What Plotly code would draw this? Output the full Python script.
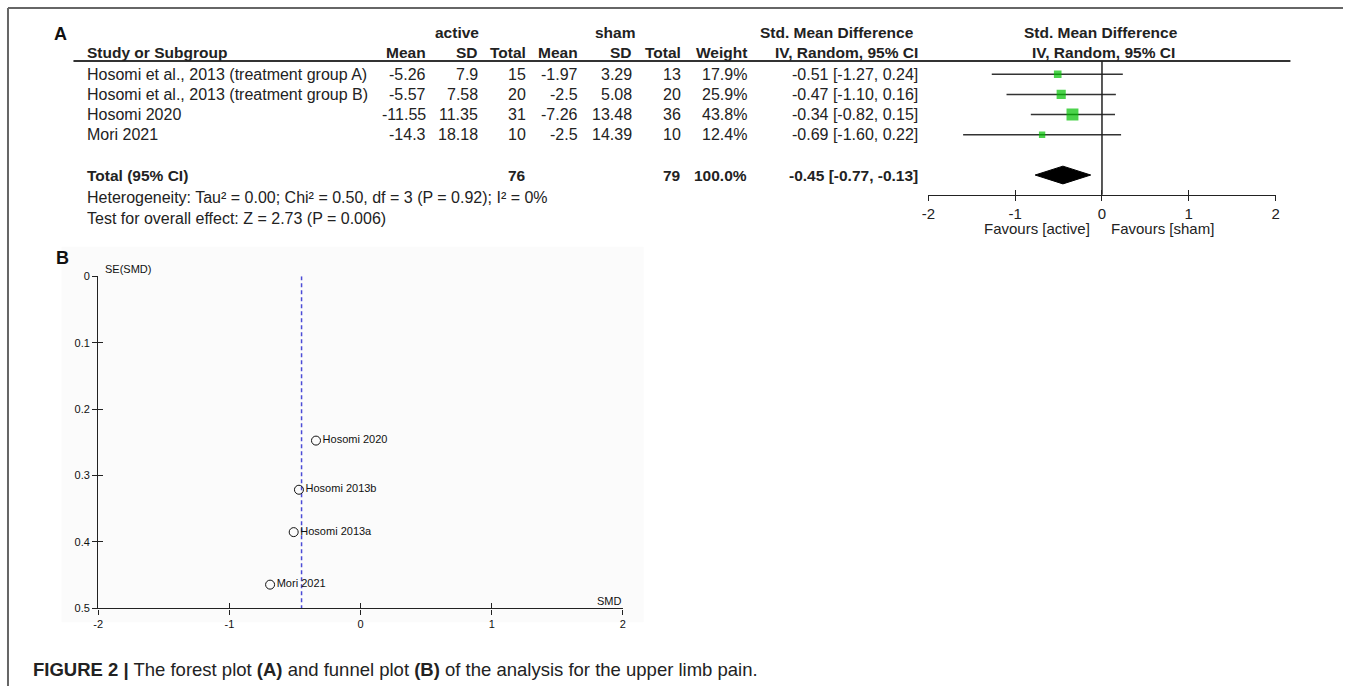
import plotly.graph_objects as go

# target canvas is 1355x700; the page keeps an 8px body margin, so the figure is offset
# by 8px and all positions below are expressed in page pixels.
PAGE_W, PAGE_H = 1355, 700
OFF = 8
W, H = PAGE_W - OFF, PAGE_H - OFF
def px(x):
    return (x - OFF) / W
def py(y):
    return 1 - (y - OFF) / H

# ---------------- data ----------------
studies = ["Hosomi et al., 2013 (treatment group A)",
           "Hosomi et al., 2013 (treatment group B)",
           "Hosomi 2020", "Mori 2021"]
funnel_labels = ["Hosomi 2013a", "Hosomi 2013b", "Hosomi 2020", "Mori 2021"]
active_mean = [-5.26, -5.57, -11.55, -14.3]
active_sd = [7.9, 7.58, 11.35, 18.18]
active_n = [15, 20, 31, 10]
sham_mean = [-1.97, -2.5, -7.26, -2.5]
sham_sd = [3.29, 5.08, 13.48, 14.39]
sham_n = [13, 20, 36, 10]
weight = [17.9, 25.9, 43.8, 12.4]
smd = [-0.51, -0.47, -0.34, -0.69]
ci_lo = [-1.27, -1.10, -0.82, -1.60]
ci_hi = [0.24, 0.16, 0.15, 0.22]
total_active = 76
total_sham = 79
total_weight = 100.0
pooled = -0.45
pooled_lo = -0.77
pooled_hi = -0.13
heterogeneity = "Heterogeneity: Tau² = 0.00; Chi² = 0.50, df = 3 (P = 0.92); I² = 0%"
overall = "Test for overall effect: Z = 2.73 (P = 0.006)"
forest_ticks = [-2, -1, 0, 1, 2]
funnel_xticks = [-2, -1, 0, 1, 2]
funnel_yticks = [0, 0.1, 0.2, 0.3, 0.4, 0.5]
se_smd = [(h - l) / (2 * 1.96) for l, h in zip(ci_lo, ci_hi)]

FONT = "Liberation Sans, Arial, sans-serif"
TXT = "#222222"
GREEN = "#00c000"
FS = 16
FSB = 15.5

rows = list(range(len(studies)))
total_row = 5

fig = go.Figure()

# ---------------- forest plot ----------------
lx, ly = [], []
for i, (l, h) in enumerate(zip(ci_lo, ci_hi)):
    lx += [l, h, None]
    ly += [i, i, None]
fig.add_trace(go.Scatter(x=lx, y=ly, mode="lines", line=dict(color="#333333", width=1.5),
                         xaxis="x", yaxis="y", hoverinfo="skip", showlegend=False))
fig.add_trace(go.Scatter(x=smd, y=rows, mode="markers",
                         marker=dict(symbol="square", color=GREEN, size=[1.8 * w ** 0.5 for w in weight],
                                     line=dict(width=0)),
                         xaxis="x", yaxis="y", showlegend=False))
dh = 0.44
fig.add_trace(go.Scatter(x=[pooled_lo, pooled, pooled_hi, pooled, pooled_lo],
                         y=[total_row, total_row - dh, total_row, total_row + dh, total_row],
                         mode="lines", fill="toself", fillcolor="black",
                         line=dict(color="black", width=1), xaxis="x", yaxis="y", showlegend=False))
fig.add_trace(go.Scatter(x=[0], y=[0], mode="markers", marker=dict(opacity=0),
                         xaxis="x3", yaxis="y", hoverinfo="skip", showlegend=False))

# ---------------- funnel plot ----------------
fig.add_trace(go.Scatter(x=[pooled, pooled], y=[0, 0.5], mode="lines",
                         line=dict(color="#4b4bd6", width=1.5, dash="4px,3px"),
                         xaxis="x2", yaxis="y2", hoverinfo="skip", showlegend=False))
fig.add_trace(go.Scatter(x=smd, y=se_smd, mode="markers+text", text=funnel_labels,
                         textposition="middle right",
                         textfont=dict(family=FONT, size=11, color="#111111"),
                         marker=dict(symbol="circle-open", size=9, color="#111111", line=dict(width=1)),
                         xaxis="x2", yaxis="y2", showlegend=False))
fig.add_trace(go.Scatter(x=[0], y=[0.25], mode="markers", marker=dict(opacity=0),
                         xaxis="x4", yaxis="y4", hoverinfo="skip", showlegend=False))

axline = dict(showline=True, linecolor="#222222", linewidth=1.3, showgrid=False, zeroline=False,
              tickcolor="#222222", tickwidth=1.3)

fig.update_layout(
    width=W, height=H, margin=dict(l=0, r=0, t=0, b=0),
    paper_bgcolor="white", plot_bgcolor="rgba(0,0,0,0)",
    font=dict(family=FONT, color=TXT, size=FS),
    showlegend=False,
    xaxis=dict(domain=[px(937), px(1287)], range=[-2, 2], anchor="y",
               ticks="outside", ticklen=5, tickvals=forest_ticks,
               ticktext=[str(t) for t in forest_ticks],
               tickfont=dict(size=15, color=TXT), **axline),
    xaxis3=dict(domain=[px(937), px(1287)], range=[-2, 2], anchor="y", overlaying="x",
                ticks="inside", ticklen=5, tickvals=forest_ticks, showticklabels=False,
                showline=False, showgrid=False, zeroline=False, tickcolor="#222222", tickwidth=1.3),
    yaxis=dict(domain=[py(200), py(64)], range=[(200 - 77.5) / 20.5, (64 - 77.5) / 20.5],
               visible=False, anchor="x"),
    xaxis2=dict(domain=[px(100), px(629)], range=[-2, 2], anchor="y2",
                ticks="outside", ticklen=5, tickvals=funnel_xticks,
                ticktext=[str(t) for t in funnel_xticks],
                tickfont=dict(size=11, color="#111111"), **axline),
    yaxis2=dict(domain=[py(621), py(283)], range=[0.5, 0], anchor="x2",
                ticks="outside", ticklen=5, tickvals=funnel_yticks,
                ticktext=[f"{t:g}" for t in funnel_yticks],
                tickfont=dict(size=11, color="#111111"), **axline),
    xaxis4=dict(domain=[px(100), px(629)], range=[-2, 2], anchor="y2", overlaying="x2",
                ticks="inside", ticklen=5, tickvals=funnel_xticks, showticklabels=False,
                showline=False, showgrid=False, zeroline=False, tickcolor="#222222", tickwidth=1.3),
    yaxis4=dict(domain=[py(621), py(283)], range=[0.5, 0], anchor="x2", overlaying="y2",
                ticks="inside", ticklen=5, tickvals=funnel_yticks, showticklabels=False,
                showline=False, showgrid=False, zeroline=False, tickcolor="#222222", tickwidth=1.3),
)

shapes = [
    # outer frame
    dict(type="line", xref="paper", yref="paper", x0=px(9), x1=1, y0=py(10), y1=py(10),
         line=dict(color="#666666", width=2)),
    dict(type="line", xref="paper", yref="paper", x0=px(9), x1=px(9), y0=py(10), y1=0,
         line=dict(color="#666666", width=2)),
    # header underline
    dict(type="line", xref="paper", yref="paper", x0=px(75), x1=px(1302), y0=py(64), y1=py(64),
         line=dict(color="#333333", width=2)),
    # zero line in forest
    dict(type="line", xref="x", yref="y domain", x0=0, x1=0, y0=0, y1=1,
         line=dict(color="#222222", width=1.5)),
    # funnel background
    dict(type="rect", xref="paper", yref="paper", x0=px(63), x1=px(650), y0=py(635), y1=py(253),
         fillcolor="#fbfbfb", line=dict(width=0), layer="below"),
]
fig.update_layout(shapes=shapes)

ann = []
def A(text, x, y, xanchor="left", yref="paper", size=FS, bold=False, color=TXT):
    t = f"<b>{text}</b>" if bold else text
    ann.append(dict(text=t, x=px(x), y=(py(y) if yref == "paper" else y), xref="paper", yref=yref,
                    xanchor=xanchor, yanchor="middle", showarrow=False,
                    font=dict(family=FONT, size=size, color=color)))

A("A", 53, 37, size=18, bold=True, color="#111111")
A("active", 462, 35, "center", size=FSB, bold=True)
A("sham", 622, 35, "center", size=FSB, bold=True)
A("Std. Mean Difference", 845, 35, "center", size=FSB, bold=True)
A("Std. Mean Difference", 1111, 35, "center", size=FSB, bold=True)
A("Study or Subgroup", 87, 55, size=FSB, bold=True)
col_right = [432, 485, 533, 586, 640, 690, 756, 929]
for name, xr in zip(["Mean", "SD", "Total", "Mean", "SD", "Total", "Weight", "IV, Random, 95% CI"], col_right):
    A(name, xr, 55, "right", size=FSB, bold=True)
A("IV, Random, 95% CI", 1114, 55, "center", size=FSB, bold=True)

for i in rows:
    vals = [f"{active_mean[i]:g}", f"{active_sd[i]:g}", str(active_n[i]),
            f"{sham_mean[i]:g}", f"{sham_sd[i]:g}", str(sham_n[i]),
            f"{weight[i]:.1f}%", f"{smd[i]:.2f} [{ci_lo[i]:.2f}, {ci_hi[i]:.2f}]"]
    A(studies[i], 87, i, yref="y")
    for v, xr in zip(vals, col_right):
        A(v, xr, i, "right", yref="y")

A("Total (95% CI)", 87, total_row, yref="y", size=FSB, bold=True)
A(str(total_active), col_right[2], total_row, "right", yref="y", size=FSB, bold=True)
A(str(total_sham), col_right[5], total_row, "right", yref="y", size=FSB, bold=True)
A(f"{total_weight:.1f}%", col_right[6], total_row, "right", yref="y", size=FSB, bold=True)
A(f"{pooled:.2f} [{pooled_lo:.2f}, {pooled_hi:.2f}]", col_right[7], total_row, "right", yref="y",
  size=FSB, bold=True)
A(heterogeneity, 87, 203)
A(overall, 87, 224)
A("Favours [active]", 1102, 234, "right", size=15)
A("Favours [sham]", 1119, 234, "left", size=15)

# funnel texts
A("B", 55, 264, size=18, bold=True, color="#111111")
A("SE(SMD)", 105, 276, size=11, color="#111111")
A("SMD", 630, 613, "right", size=11, color="#111111")

# caption
A("<b>FIGURE 2 |</b> The forest plot <b>(A)</b> and funnel plot <b>(B)</b> of the analysis for the upper limb pain.",
  32, 683, size=18.5, color="#222222")

fig.update_layout(annotations=ann)
fig.write_html("out.html")
